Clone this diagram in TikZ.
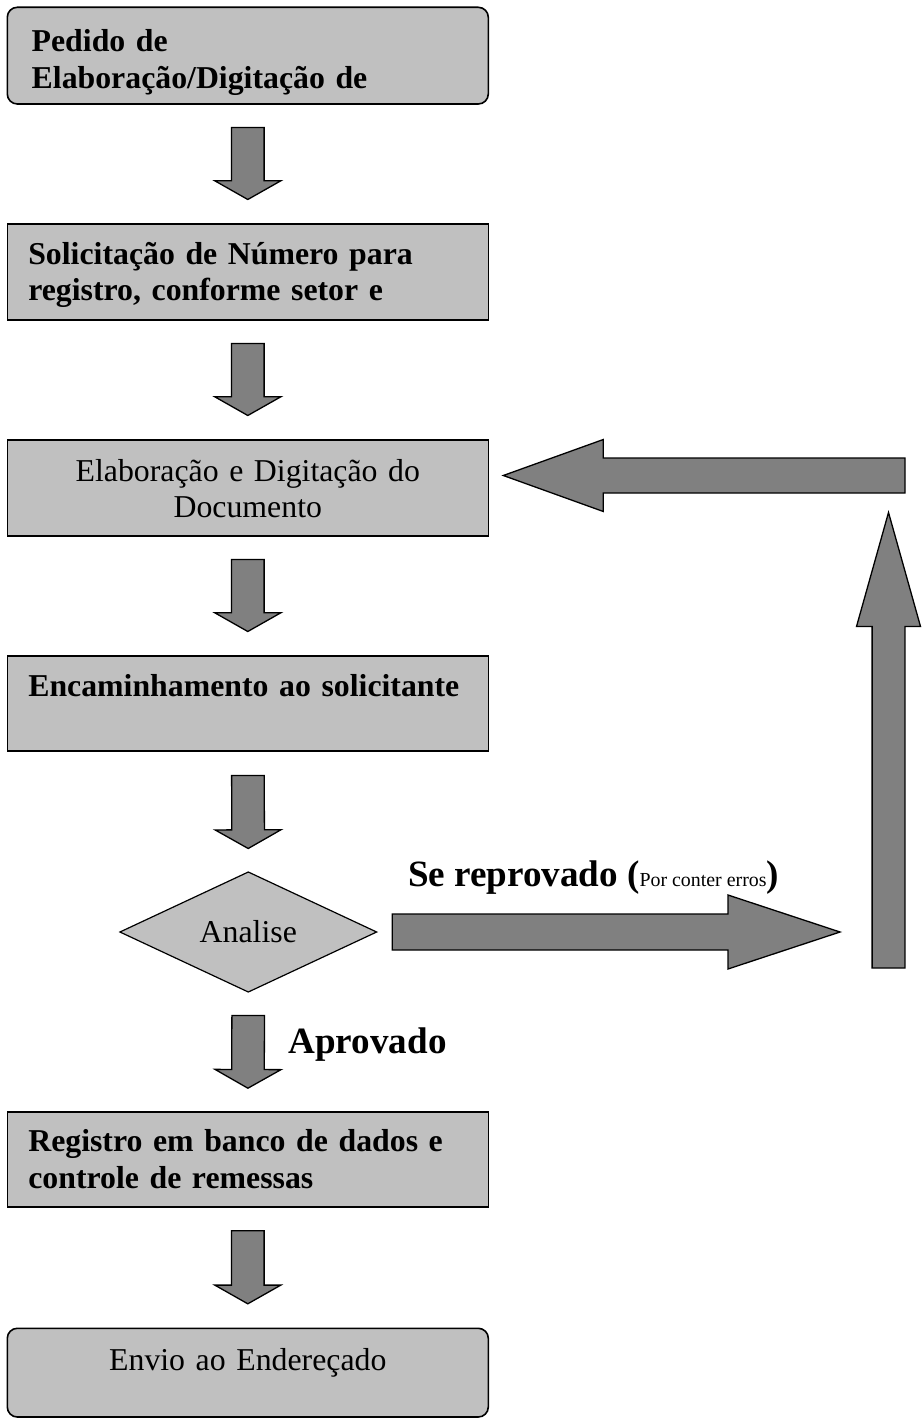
\documentclass[tikz,border=0pt]{standalone}
\usepackage{fontspec}
\setmainfont{Liberation Serif}
\usetikzlibrary{calc,shapes.geometric}

\definecolor{boxgray}{RGB}{192,192,192}
\definecolor{arrowgray}{RGB}{128,128,128}

\newcommand{\boxfont}{\fontsize{31.8pt}{36.6pt}\selectfont}
\newcommand{\labelfont}{\fontsize{37.1pt}{42pt}\selectfont}
\newcommand{\smallfont}{\fontsize{19.9pt}{23pt}\selectfont}

% fat arrow: from, to, gap at start, gap at end, half shaft, half head, head length
\newcommand{\fatarrow}[7]{%
  \coordinate (fs) at ($(#1)!#3!(#2)$);
  \coordinate (ft) at ($(#2)!#4!(#1)$);
  \coordinate (fb) at ($(ft)!#7!(fs)$);
  \filldraw[fat] ($(fs)!#5!90:(ft)$) -- ($(fb)!#5!90:(ft)$) -- ($(fb)!#6!90:(ft)$) -- (ft)
    -- ($(fb)!#6!-90:(ft)$) -- ($(fb)!#5!-90:(ft)$) -- ($(fs)!#5!-90:(ft)$) -- cycle;
}

\tikzset{
  box/.style={draw, line width=1.6pt, fill=boxgray, anchor=north west, outer sep=0pt,
    inner ysep=0pt, inner xsep=21pt, text width=439pt, align=left, font=\boxfont\bfseries},
  plainbox/.style={box, align=center, font=\boxfont},
  fat/.style={fill=arrowgray, draw=black, line width=1.3pt, line join=miter},
  decision/.style={diamond, draw, line width=1.2pt, fill=boxgray, outer sep=0pt, inner sep=0pt,
    minimum width=256.7pt, minimum height=120pt, shape aspect=2.14, font=\boxfont},
  tag/.style={anchor=base west, inner sep=0pt}
}

\begin{document}
\begin{tikzpicture}[x=1pt,y=-1pt]
  \useasboundingbox (0,0) rectangle (923,1420);

  %boxes
  \node[box, rounded corners=10pt, inner xsep=24.4pt, text width=432.2pt, text height=44.4pt, text depth=52.3pt]
    (pedido) at (7.3,7.3) {Pedido de\\Elaboração/Digitação de};
  \node[box, text height=40.3pt, text depth=55.7pt]
    (solic) at (7.3,224) {Solicitação de Número para\\registro, conforme setor e};
  \node[plainbox, text height=41pt, text depth=55pt]
    (elab) at (7.3,440) {Elaboração e Digitação do\\Documento};
  \node[box, text height=40.7pt, text depth=54.3pt]
    (encam) at (7.3,656) {Encaminhamento ao solicitante};
  \node[decision] (analise) at (248.3,932) {Analise};
  \node[box, text height=40pt, text depth=55.5pt]
    (registro) at (7.3,1111.7) {Registro em banco de dados e\\controle de remessas};
  \node[plainbox, rounded corners=10pt, text height=41.7pt, text depth=47pt]
    (envio) at (7.3,1328.3) {Envio ao Endereçado};

  %arrows down
  \fatarrow{pedido.south}{solic.north}{23.5pt}{24.5pt}{16.3pt}{33pt}{18.7pt}
  \fatarrow{solic.south}{elab.north}{23.5pt}{24.5pt}{16.3pt}{33pt}{18.7pt}
  \fatarrow{elab.south}{encam.north}{23.5pt}{24.5pt}{16.3pt}{33pt}{18.7pt}
  \fatarrow{encam.south}{analise.north}{24.5pt}{23.5pt}{16.3pt}{33pt}{18.7pt}
  \fatarrow{analise.south}{registro.north}{23.5pt}{23.5pt}{16.3pt}{33pt}{18.7pt}
  \fatarrow{registro.south}{envio.north}{23.5pt}{24.5pt}{16.3pt}{33pt}{18.7pt}

  %loop back
  \coordinate (dirTip) at (840,932);
  \coordinate (upBase) at (888.5,968);
  \coordinate (upTip) at (888.5,512.5);
  \coordinate (leftEnd) at (905,475.5);
  \coordinate (leftTip) at ([shift={(15pt,12.5pt)}]elab.east);
  \fatarrow{analise.east}{dirTip}{15.5pt}{0pt}{18pt}{37pt}{112pt}
  \fatarrow{upBase}{upTip}{0pt}{0pt}{16.4pt}{32pt}{114pt}
  \fatarrow{leftEnd}{leftTip}{0pt}{0pt}{17.5pt}{36pt}{100pt}

  %labels
  \node[tag] (reprov) at (407.8,886)
    {{\labelfont\bfseries Se reprovado (}{\smallfont Por conter erros}{\labelfont\bfseries )}};
  \node[tag, font=\labelfont\bfseries] (aprov) at (288.3,1053.3) {Aprovado};
\end{tikzpicture}
\end{document}
